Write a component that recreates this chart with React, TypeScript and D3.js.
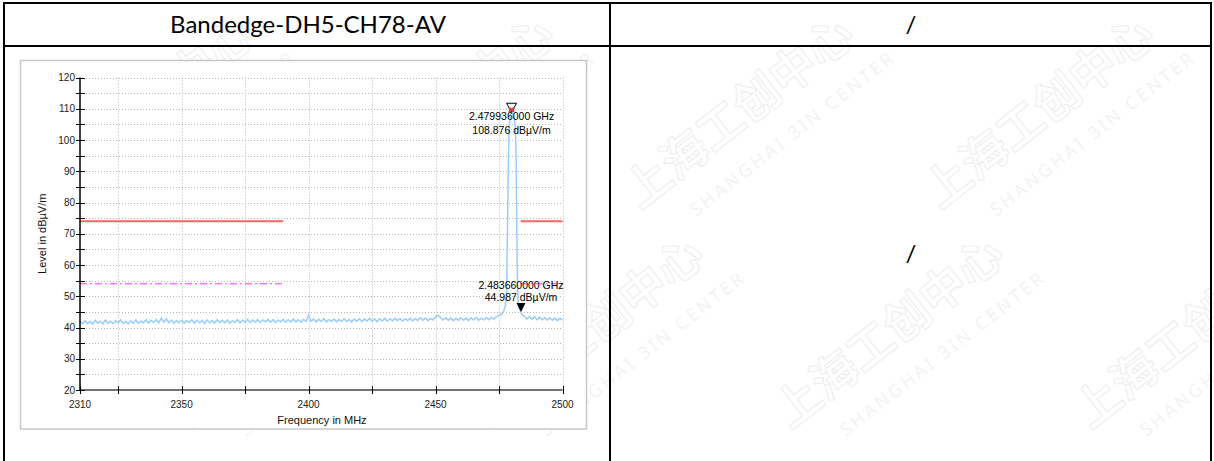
import React from 'react';
import * as d3 from 'd3';

// ---------- data ----------
const noiseStart = 2310; // MHz, 1 MHz step
const noiseLevels = [
  42.1, 41.2, 42.2, 41.3, 41.9, 41.1, 42.3, 41.4, 42.0, 41.2,
  42.4, 41.3, 42.0, 41.2, 42.2, 41.5, 42.5, 41.3, 41.9, 41.2,
  42.2, 41.4, 42.4, 41.3, 42.0, 41.5, 42.5, 41.4, 42.3, 41.6,
  42.6, 41.5, 43.0, 41.7, 42.7, 41.6, 42.4, 41.4, 42.2, 41.5,
  42.3, 41.4, 42.2, 41.6, 42.5, 41.4, 42.3, 41.5, 42.2, 41.3,
  42.4, 41.5, 42.2, 41.4, 42.5, 41.6, 42.3, 41.5, 42.4, 41.4,
  42.2, 41.6, 42.5, 41.5, 42.3, 41.7, 42.6, 41.6, 42.4, 41.7,
  42.5, 41.6, 42.4, 41.8, 42.6, 41.7, 42.5, 41.6, 42.4, 41.8,
  42.6, 41.7, 42.5, 41.8, 42.7, 41.8, 42.5, 41.7, 42.6, 41.9,
  43.9, 42.0, 42.7, 41.8, 42.6, 41.9, 42.8, 41.8, 42.5, 41.9,
  42.7, 41.8, 42.6, 42.0, 42.8, 41.9, 42.6, 41.8, 42.7, 42.0,
  42.8, 41.9, 42.7, 42.1, 42.9, 42.0, 42.7, 41.9, 42.8, 42.1,
  42.9, 42.0, 42.8, 42.1, 43.0, 42.2, 42.9, 42.0, 42.8, 42.2,
  43.0, 42.1, 42.9, 42.2, 43.1, 42.3, 43.0, 42.2, 42.9, 42.4,
  43.4, 43.9, 43.2, 42.4, 43.1, 42.3, 43.0, 42.2, 42.9, 42.3,
  43.1, 42.3, 43.0, 42.2, 43.1, 42.4, 43.2, 42.3, 43.0, 42.4,
  43.2, 42.5, 43.3, 42.7, 43.5, 43.8,
];
const peakFreqs = [2476, 2476.5, 2477, 2477.5, 2478, 2478.25, 2478.5, 2478.75, 2479, 2479.5, 2479.936,
  2480.5, 2481, 2481.5, 2481.75, 2482, 2482.25, 2482.5, 2483, 2483.66, 2484];
const peakLevels = [44.2, 44.8, 45.6, 47.0, 52, 66, 82, 96, 104.5, 107.8, 108.876,
  108.2, 107.0, 104.0, 93, 72, 56, 48.5, 46.0, 44.987, 44.1];
const tailStart = 2485;
const tailLevels = [43.6, 42.7, 43.5, 42.6, 43.4, 42.5, 43.3, 42.4, 43.2, 42.4, 43.1, 42.3, 43.0, 42.2, 42.9, 42.4];

const limitPeak = 74;
const limitAvg = 54;
const limitSegments = [[2310, 2390], [2483.5, 2500]];

const markers = [
  { freq: 2479.936, level: 108.876, label1: '2.479936000 GHz', label2: '108.876 dBµV/m', kind: 'open' },
  { freq: 2483.66, level: 44.987, label1: '2.483660000 GHz', label2: '44.987 dBµV/m', kind: 'filled' },
];

const xLabelTicks = [2310, 2350, 2400, 2450, 2500];
const xMinorTicks = [2310, 2325, 2350, 2375, 2400, 2425, 2450, 2475, 2500];
const yLabelTicks = [20, 30, 40, 50, 60, 70, 80, 90, 100, 110, 120];
const yMinorTicks = [20, 25, 30, 35, 40, 45, 50, 55, 60, 65, 70, 75, 80, 85, 90, 95, 100, 105, 110, 115, 120];

const headerLeft = 'Bandedge-DH5-CH78-AV';
const headerRight = '/';
const bodyRight = '/';
const xTitle = 'Frequency in MHz';
const yTitle = 'Level in dBµV/m';
const wmCn = '上海工创中心';
const wmEn = 'SHANGHAI 3IN CENTER';

// ---------- component ----------
export default function App() {
  const W = 1214, H = 461;
  const x = d3.scaleLinear().domain([2310, 2500]).range([80, 562.5]);
  const y = d3.scaleLinear().domain([20, 120]).range([390, 77.5]);

  const pts: [number, number][] = [];
  noiseLevels.forEach((v, i) => pts.push([noiseStart + i, v]));
  peakFreqs.forEach((f, i) => pts.push([f, peakLevels[i]]));
  tailLevels.forEach((v, i) => pts.push([tailStart + i, v]));

  const line = d3.line<[number, number]>().x(d => x(d[0])).y(d => y(d[1]));
  const chartFont = 'Liberation Sans, Arial, sans-serif';

  const wm: { cx: number; cy: number }[] = [];
  for (let r = 0; r < 2; r++) {
    for (let c = 0; c < 4; c++) {
      wm.push({ cx: c * 300 + (r % 2) * 150 + 40, cy: r * 220 + 210 });
    }
  }

  return (
    <svg width={W} height={H} style={{ position: 'absolute', left: 0, top: 0, background: '#fff' }}>
      <rect x={0} y={0} width={W} height={H} fill="#fff" />
      {/* watermark */}
      <g>
        {wm.map((p, i) => (
          <g key={i} transform={`translate(${p.cx},${p.cy}) rotate(-38)`}>
            <text x={0} y={0} fontFamily="Noto Sans CJK SC" fontSize={46} fontWeight={700}
              fill="none" stroke="#efefef" strokeWidth={1.2}>{wmCn}</text>
            <text x={40} y={40} fontFamily="Noto Sans, sans-serif" fontSize={18}
              fill="#f3f3f3" letterSpacing={3}>{wmEn}</text>
          </g>
        ))}
      </g>

      {/* table */}
      <g stroke="#000" strokeWidth={2}>
        <line x1={4} y1={3} x2={1211} y2={3} />
        <line x1={4} y1={46} x2={1211} y2={46} />
        <line x1={4} y1={2} x2={4} y2={H} />
        <line x1={610} y1={2} x2={610} y2={H} />
        <line x1={1211} y1={2} x2={1211} y2={H} />
      </g>
      <text x={308} y={33} textAnchor="middle" fontFamily="Lato, sans-serif" fontSize={24} fill="#000">{headerLeft}</text>
      <text x={911} y={33} textAnchor="middle" fontFamily="Lato, sans-serif" fontSize={24} fill="#000">{headerRight}</text>
      <text x={911} y={262} textAnchor="middle" fontFamily="Lato, sans-serif" fontSize={24} fill="#000">{bodyRight}</text>

      {/* chart frame */}
      <rect x={20.5} y={60.5} width={566} height={368.5} fill="#fff" stroke="#c8c8c8" strokeWidth={1.5} />

      {/* grid */}
      <g stroke="#b8b8b8" strokeWidth={1} strokeDasharray="1,2">
        {yMinorTicks.filter(t => t > 20).map(t => (
          <line key={'gy' + t} x1={x(2310)} x2={x(2500)} y1={Math.round(y(t)) + 0.5} y2={Math.round(y(t)) + 0.5} />
        ))}
        {xMinorTicks.filter(t => t > 2310).map(t => (
          <line key={'gx' + t} x1={Math.round(x(t)) + 0.5} x2={Math.round(x(t)) + 0.5} y1={y(120)} y2={y(20)} />
        ))}
      </g>

      {/* limit lines */}
      {limitSegments.map((s, i) => (
        <line key={'lp' + i} x1={x(s[0])} x2={x(s[1])} y1={y(limitPeak)} y2={y(limitPeak)} stroke="#ff6666" strokeWidth={2} />
      ))}
      {limitSegments.map((s, i) => (
        <line key={'la' + i} x1={x(s[0])} x2={x(s[1])} y1={y(limitAvg)} y2={y(limitAvg)} stroke="#ff33ff" strokeWidth={1} strokeDasharray="7,3,2,3" />
      ))}

      {/* trace */}
      <path d={line(pts) || ''} fill="none" stroke="#99ccff" strokeWidth={1.5} />

      {/* axes */}
      <line x1={x(2310)} x2={x(2310)} y1={y(120)} y2={y(20)} stroke="#000" strokeWidth={1.5} />
      <line x1={x(2310)} x2={x(2500)} y1={y(20)} y2={y(20)} stroke="#444" strokeWidth={1.5} />
      <g stroke="#000" strokeWidth={1}>
        {yMinorTicks.map(t => (
          <line key={'ty' + t} x1={x(2310) - 4} x2={x(2310) + 5} y1={Math.round(y(t)) + 0.5} y2={Math.round(y(t)) + 0.5} />
        ))}
        {xMinorTicks.map(t => (
          <line key={'tx' + t} x1={Math.round(x(t)) + 0.5} x2={Math.round(x(t)) + 0.5} y1={y(20) - 4} y2={y(20) + 4} />
        ))}
      </g>
      <g fontFamily={chartFont} fontSize={10} fill="#222">
        {yLabelTicks.map(t => (
          <text key={'ly' + t} x={x(2310) - 5} y={y(t) + 3.5} textAnchor="end">{t}</text>
        ))}
        {xLabelTicks.map(t => (
          <text key={'lx' + t} x={x(t)} y={407.5} textAnchor="middle">{t}</text>
        ))}
      </g>
      <text x={322} y={423.5} textAnchor="middle" fontFamily={chartFont} fontSize={11} fill="#111">{xTitle}</text>
      <text transform={`translate(46,${(y(20) + y(120)) / 2}) rotate(-90)`} textAnchor="middle" fontFamily={chartFont} fontSize={11} fill="#111">{yTitle}</text>

      {/* markers */}
      {markers.map((m, i) => {
        const mx = x(m.freq), my = y(m.level);
        if (m.kind === 'open') {
          return (
            <g key={'m' + i}>
              <path d={`M${mx - 5},${my - 9}L${mx + 5},${my - 9}L${mx},${my}Z`} fill="none" stroke="#000" strokeWidth={1} />
              <path d={`M${mx - 2.5},${my - 4.5}L${mx + 2.5},${my - 0.5}M${mx + 2.5},${my - 4.5}L${mx - 2.5},${my - 0.5}`} stroke="#e83030" strokeWidth={2} />
              <text x={mx} y={my + 8} textAnchor="middle" fontFamily={chartFont} fontSize={10.5} fill="#000">{m.label1}</text>
              <text x={mx} y={my + 21.5} textAnchor="middle" fontFamily={chartFont} fontSize={10.5} fill="#000">{m.label2}</text>
            </g>
          );
        }
        return (
          <g key={'m' + i}>
            <text x={mx} y={my - 23} textAnchor="middle" fontFamily={chartFont} fontSize={10.5} fill="#000">{m.label1}</text>
            <text x={mx} y={my - 10.5} textAnchor="middle" fontFamily={chartFont} fontSize={10.5} fill="#000">{m.label2}</text>
            <path d={`M${mx - 4.5},${my - 9}L${mx + 4.5},${my - 9}L${mx},${my}Z`} fill="#000" />
          </g>
        );
      })}
    </svg>
  );
}
